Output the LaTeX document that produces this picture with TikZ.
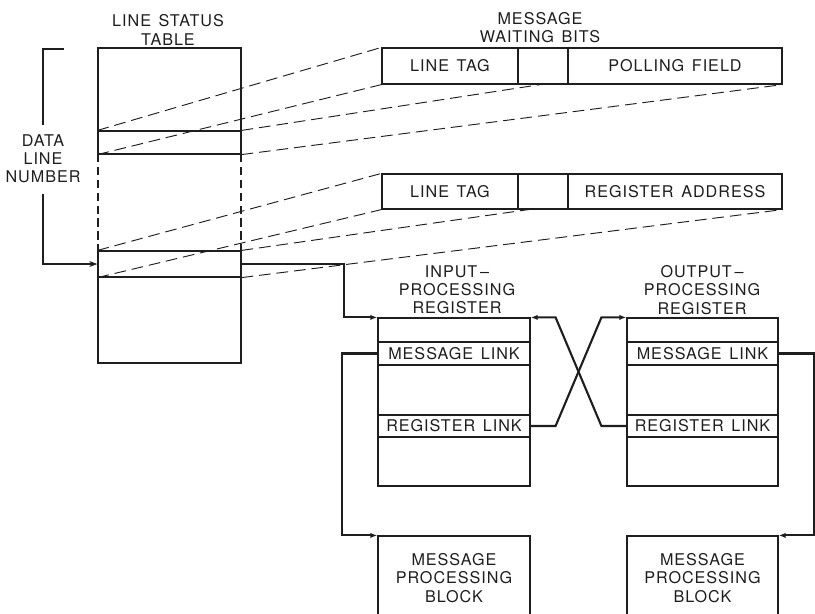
\documentclass[tikz,border=0pt]{standalone}
\usepackage{fontspec}
\setmainfont{TeX Gyre Heros}[LetterSpace=6,WordSpace=1.4]
\usetikzlibrary{arrows.meta,calc,backgrounds}
\definecolor{inkblack}{RGB}{30,30,30}
\newcommand{\pix}{0.03cm}
\tikzset{
  lettering/.style={font={\fontsize{13.8pt}{15.5pt}\selectfont}, text=inkblack},
  title/.style={lettering, align=center, inner sep=0pt},
  boxline/.style={draw=inkblack, line width=1pt},
  field/.style={boxline, lettering, fill=white, inner sep=0pt},
  regbox/.style={boxline, inner sep=0pt},
  projline/.style={inkblack, line width=0.8pt, dash pattern=on 10pt off 5pt},
  link/.style={inkblack, line width=1.8pt},
  linkarrow/.style={link, -{Latex[length=6pt,width=4.5pt]}},
  ptr/.style={inkblack, line width=1.1pt, -{Stealth[length=7pt,width=5pt]}}
}

\begin{document}
\begin{tikzpicture}[x=\pix,y=-\pix]
  \useasboundingbox (0,0) rectangle (815,613);
  \clip (0,0) rectangle (815,613);

  % table d'état des lignes
  \node[title] (lstT) at (168,30) {LINE STATUS\\TABLE};
  \draw[boxline] (98,154) -- (98,48) -- (241,48) -- (241,154);
  \draw[boxline] (98,251) -- (98,363) -- (241,363) -- (241,251);
  \draw[boxline, dash pattern=on 7pt off 4pt] (98,154) -- (98,251) (241,154) -- (241,251);
  \node[regbox, minimum width=143*\pix, minimum height=23*\pix] (lsA) at (169.5,142.5) {};
  \node[regbox, minimum width=143*\pix, minimum height=26*\pix] (lsB) at (169.5,264) {};

  % numéro de ligne
  \node[title] (dln) at (43,159) {DATA\\LINE\\NUMBER};
  \draw[link, line width=1.1pt] ([yshift=8pt]dln.north) -- (43,49) -- (64,49);
  \draw[ptr] ([yshift=-9pt]dln.south) |- (lsB.west);

  % mots d'état
  \node[title] (mwbT) at (540,28) {MESSAGE\\WAITING BITS};
  \node[field, minimum width=136*\pix, minimum height=36*\pix] (tagA) at (450,66) {LINE TAG};
  \node[field, minimum width=50*\pix, minimum height=36*\pix] (gapA) at (543,66) {};
  \node[field, minimum width=214*\pix, minimum height=36*\pix] (pollA) at (675,66) {POLLING FIELD};
  \node[field, minimum width=136*\pix, minimum height=35*\pix] (tagB) at (450,191.5) {LINE TAG};
  \node[field, minimum width=50*\pix, minimum height=35*\pix] (gapB) at (543,191.5) {};
  \node[field, minimum width=214*\pix, minimum height=35*\pix] (regB) at (675,191.5) {REGISTER ADDRESS};

  % projections pointillées
  \begin{scope}[on background layer]
    \foreach \r/\t/\e in {lsA/tagA/pollA, lsB/tagB/regB}{
      \draw[projline] (\r.north west) -- (\t.north west);
      \draw[projline] (\r.south west) -- (\t.south west);
      \draw[projline] (\r.north east) -- (\e.north east);
      \draw[projline] (\r.south east) -- (\e.south east);
    }
  \end{scope}

  % registres
  \node[title] (inpT) at (457,290) {INPUT\,--\\PROCESSING\\REGISTER};
  \node[regbox, minimum width=152*\pix, minimum height=168*\pix] (inp) at (454,402) {};
  \node[regbox, lettering, minimum width=152*\pix, minimum height=23*\pix] (inpML) at (454,353.5) {MESSAGE LINK};
  \node[regbox, lettering, minimum width=152*\pix, minimum height=22*\pix] (inpRL) at (454,426) {REGISTER LINK};

  \node[title] (outT) at (702,290) {OUTPUT\,--\\PROCESSING\\REGISTER};
  \node[regbox, minimum width=151*\pix, minimum height=168*\pix] (out) at (702.5,402) {};
  \node[regbox, lettering, minimum width=151*\pix, minimum height=23*\pix] (outML) at (702.5,353.5) {MESSAGE LINK};
  \node[regbox, lettering, minimum width=151*\pix, minimum height=22*\pix] (outRL) at (702.5,426) {REGISTER LINK};

  % blocs de traitement
  \node[regbox, lettering, align=center, minimum width=152*\pix, minimum height=84*\pix] (mpA) at (454,578) {MESSAGE\\PROCESSING\\BLOCK};
  \node[regbox, lettering, align=center, minimum width=151*\pix, minimum height=84*\pix] (mpB) at (702.5,578) {MESSAGE\\PROCESSING\\BLOCK};

  % liaisons
  \draw[linkarrow] (lsB.east) -- ++(102,0) |- (inp.north west);
  \draw[linkarrow] (inpML.west) -- ++(-35,0) |- (mpA.north west);
  \draw[linkarrow] (outML.east) -- ++(35,0) |- (mpB.north east);
  \draw[linkarrow] (inpRL.east) -- ++(25,0) -- ($(out.north west)+(-25,0)$) -- (out.north west);
  \draw[linkarrow] (outRL.west) -- ++(-25,0) -- ($(inp.north east)+(25,0)$) -- (inp.north east);
\end{tikzpicture}
\end{document}
